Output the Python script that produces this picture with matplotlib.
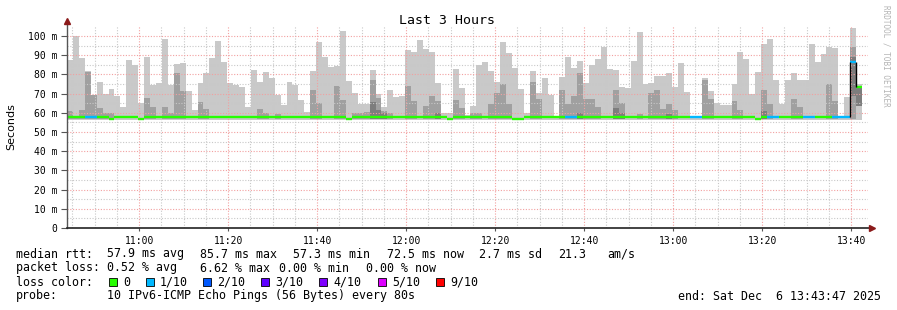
import numpy as np
import matplotlib.pyplot as plt
from datetime import datetime

# time range of the graph (80 s steps)
start = datetime(2025, 12, 6, 10, 43, 47)
end = datetime(2025, 12, 6, 13, 43, 47)
step = 80

# smoke: top of the lightest band (max ping) per step, ms
rtt_max = [87.5, 100, 88.5, 82, 69.4, 76, 69.7, 72.4, 68.75, 63.2,
           87.5, 85, 65.3, 89.2, 74.6, 75.5, 98.6, 74.6, 85.4, 86,
           71.5, 61.5, 75.3, 80.5, 88.5, 97.6, 86.5, 75.7, 74.6, 73.6,
           63.2, 82.3, 76, 81.25, 78.1, 69.4, 64.2, 76, 74.6, 66.7,
           60.4, 82, 96.9, 89.2, 84, 84.4, 102.8, 76.7, 70.1, 64.6,
           64.6, 82.3, 69.8, 63.2, 71.9, 68, 68.75, 92.7, 91.7, 97.9,
           93.4, 91.7, 75.3, 59.9, 59.9, 83, 72.9, 58.7, 63.5, 85,
           86.5, 82, 76, 96.9, 91.3, 83.3, 72.4, 60, 82, 70.5,
           78.1, 69.4, 58, 78.8, 89.2, 83.3, 87.2, 75.3, 85, 88.2,
           94.4, 83, 82.3, 73.3, 72.9, 87.2, 102, 75, 75.5, 79.2,
           79.2, 80.9, 73.3, 86, 70.8, 58, 58.5, 78.1, 71.2, 65.3,
           64.2, 64.2, 75, 91.7, 88.2, 69.8, 81.25, 95.8, 98.6, 77.1,
           64.6, 77.1, 80.5, 77.1, 77.1, 95.8, 86.5, 90.4, 94.4, 93.7,
           58, 68.4, 104.2, 75]

# second smoke band top (0 = none visible)
rtt_mid = [61, 58, 61.5, 81, 69.4, 62.5, 60, 60, 0, 0,
           0, 0, 0, 67.7, 63.2, 0, 63.2, 60, 80.9, 71.5,
           0, 0, 65.6, 62, 0, 0, 0, 0, 0, 0,
           0, 0, 62, 60, 0, 59.5, 0, 0, 0, 0,
           0, 71.9, 65.3, 0, 0, 74, 66.7, 0, 60, 60,
           60.4, 77.1, 67.7, 61, 60, 0, 0, 74, 66, 0,
           63.5, 68.75, 66, 0, 0, 66.7, 62.5, 0, 60, 60,
           0, 64.6, 70.1, 75, 64.6, 0, 0, 0, 76, 67.3,
           0, 0, 0, 71.9, 64.6, 68.75, 80.9, 67.3, 67.3, 63.2,
           0, 0, 71.9, 65.3, 0, 0, 59.5, 0, 70.1, 71.9,
           62, 64.6, 61.5, 0, 0, 0, 0, 77.1, 67.3, 0,
           0, 0, 66, 61.5, 0, 0, 0, 71.9, 64.6, 0,
           0, 0, 67, 62.8, 0, 0, 0, 0, 75, 66,
           0, 0, 94.4, 0]

# darkest smoke band (step index, low, high)
dark_idx = [51, 52, 53, 62, 86, 92, 93, 101, 117, 132, 133]
dark_lo = [57, 57, 57, 57, 57, 57, 57, 57, 57, 68.75, 63.5]
dark_hi = [65.6, 61.5, 60, 60, 60, 62.5, 60, 59.5, 61, 89.2, 73.3]

# median rtt per step, ms
median = [57.8, 57.8, 57.8, 57.6, 57.6, 57.8, 57.8, 57.0, 57.8, 57.8,
          57.8, 57.8, 57.0, 57.8, 57.8, 57.8, 57.8, 57.8, 57.8, 57.8,
          57.8, 57.8, 57.8, 57.8, 57.8, 57.8, 57.8, 57.8, 57.8, 57.8,
          57.8, 57.8, 57.8, 57.8, 57.8, 57.8, 57.8, 57.8, 57.8, 57.8,
          57.8, 57.8, 57.8, 57.8, 57.8, 57.8, 57.8, 57.0, 57.8, 57.8,
          57.8, 57.8, 57.8, 57.8, 57.8, 57.8, 57.8, 57.8, 57.8, 57.8,
          57.8, 57.8, 57.8, 57.8, 57.0, 57.8, 57.8, 57.8, 57.8, 57.8,
          57.8, 57.8, 57.8, 57.8, 57.8, 57.0, 57.0, 57.8, 57.8, 57.8,
          57.8, 57.8, 57.8, 57.8, 57.6, 57.6, 57.8, 57.8, 57.8, 57.8,
          57.8, 57.8, 57.8, 57.8, 57.8, 57.8, 57.8, 57.8, 57.8, 57.8,
          57.8, 57.8, 57.8, 57.8, 57.8, 57.6, 57.6, 57.8, 57.8, 57.8,
          57.8, 57.8, 57.8, 57.8, 57.8, 57.8, 57.0, 57.8, 57.6, 57.6,
          57.8, 57.8, 57.8, 57.8, 57.6, 57.6, 57.8, 57.8, 57.8, 57.6,
          57.6, 57.6, 86.5, 73.3]

# loss per step in tenths
loss = [0, 0, 0, 1, 1, 0, 0, 0, 0, 0,
        0, 0, 0, 0, 0, 0, 0, 0, 0, 0,
        0, 0, 0, 0, 0, 0, 0, 0, 0, 0,
        0, 0, 0, 0, 0, 0, 0, 0, 0, 0,
        0, 0, 0, 0, 0, 0, 0, 0, 0, 0,
        0, 0, 0, 0, 0, 0, 0, 0, 0, 0,
        0, 0, 0, 0, 0, 0, 0, 0, 0, 0,
        0, 0, 0, 0, 0, 0, 0, 0, 0, 0,
        0, 0, 0, 0, 1, 1, 0, 0, 0, 0,
        0, 0, 0, 0, 0, 0, 0, 0, 0, 0,
        0, 0, 0, 0, 0, 1, 1, 0, 0, 0,
        0, 0, 0, 0, 0, 0, 0, 0, 1, 1,
        0, 0, 0, 0, 1, 1, 0, 0, 0, 1,
        1, 1, 1, 0]

loss_labels = ["0", "1/10", "2/10", "3/10", "4/10", "5/10", "9/10"]
loss_colors = ["#26ff00", "#00b8ff", "#0059ff", "#5e00ff", "#7e00ff", "#dd00ff", "#ff0000"]

ytick_vals = [0, 10, 20, 30, 40, 50, 60, 70, 80, 90, 100]
ytick_labels = ["0", "10 m", "20 m", "30 m", "40 m", "50 m", "60 m", "70 m", "80 m", "90 m", "100 m"]
xtick_labels = ["11:00", "11:20", "11:40", "12:00", "12:20", "12:40", "13:00", "13:20", "13:40"]

mono = "DejaVu Sans Mono"
W, H = 897, 310
fig = plt.figure(figsize=(W / 100, H / 100), dpi=100)
fig.patch.set_facecolor("white")
ymax = 105
ax = fig.add_axes([67 / W, 1 - 228 / H, 801 / W, ymax * 1.92 / H])
span = (end - start).total_seconds()
ax.set_xlim(0, span)
ax.set_ylim(0, ymax)

x = np.arange(len(rtt_max)) * step
smoke_lo = 56.4
ax.bar(x, np.array(rtt_max) - smoke_lo, bottom=smoke_lo, width=step, align="edge",
       color="#c9c9c9", lw=0, zorder=1)
mid = np.array(rtt_mid)
has = mid > 0
ax.bar(x[has], mid[has] - 57.0, bottom=57.0, width=step, align="edge",
       color="#a0a0a0", lw=0, zorder=2)
ax.bar(x[dark_idx], np.array(dark_hi) - np.array(dark_lo), bottom=dark_lo, width=step,
       align="edge", color="#7d7d7d", lw=0, zorder=2.5)

# grid drawn over the smoke
def tsec(h, m):
    return (datetime(2025, 12, 6, h, m) - start).total_seconds()

minor_x = [tsec(10, 45) + 300 * k for k in range(36)]
major_x = [tsec(11, 0) + 1200 * k for k in range(9)]
for v in minor_x:
    if v not in major_x:
        ax.axvline(v, color="#c8c8c8", lw=0.8, ls=(0, (1, 1.5)), zorder=3)
for v in range(5, 105, 10):
    ax.axhline(v, color="#c8c8c8", lw=0.8, ls=(0, (1, 1.5)), zorder=3)
for v in major_x:
    ax.axvline(v, color="#f2a0a0", lw=0.8, ls=(0, (1, 1.5)), zorder=3)
for v in ytick_vals[1:]:
    ax.axhline(v, color="#f2a0a0", lw=0.8, ls=(0, (1, 1.5)), zorder=3)

# median line coloured by loss
for i in range(len(median)):
    ax.hlines(median[i], x[i], x[i] + step, color=loss_colors[loss[i]], lw=1.7, zorder=5)
    if i > 0 and abs(median[i] - median[i - 1]) > 5:
        ax.vlines(x[i], min(median[i], median[i - 1]) + 0.3, max(median[i], median[i - 1]),
                  color="black", lw=1.0, zorder=5)

for s in ax.spines.values():
    s.set_visible(False)
ax.plot([0, 0], [0, 107.5], color="#555555", lw=1, clip_on=False, zorder=6)
ax.plot([0, span + 45], [0, 0], color="#222222", lw=1.2, clip_on=False, zorder=6)
ax.plot([0], [107.8], marker="^", color="#8b1a1a", ms=4.5, clip_on=False, zorder=7)
ax.plot([span + 50], [0], marker=">", color="#8b1a1a", ms=4.5, clip_on=False, zorder=7)

ax.set_yticks(ytick_vals)
ax.set_yticklabels(ytick_labels, fontfamily=mono, fontsize=7)
ax.set_xticks(major_x)
ax.set_xticklabels(xtick_labels, fontfamily=mono, fontsize=7)
ax.tick_params(axis="y", length=4, width=0.8, color="#555555", pad=3)
ax.tick_params(axis="x", length=2, width=0.8, color="#555555", pad=4)

fig.text(447 / W, 1 - 20 / H, "Last 3 Hours", ha="center", va="center", fontfamily=mono, fontsize=9.5)
fig.text(11 / W, 1 - 127 / H, "Seconds", rotation=90, ha="center", va="center", fontsize=8)
fig.text(886 / W, 1 - 5 / H, "RRDTOOL / TOBI OETIKER", rotation=270, ha="center", va="top",
         fontfamily=mono, fontsize=5.5, color="#b4b4b4")

fs = 8.4
def row(y, items):
    for px, s in items:
        fig.text(px / W, 1 - y / H, s, ha="left", va="center", fontfamily=mono, fontsize=fs)

row(254, [(16, "median rtt:"), (107, "57.9 ms avg"), (200, "85.7 ms max"), (293, "57.3 ms min"),
          (387, "72.5 ms now"), (479, "2.7 ms sd"), (558, "21.3"), (607, "am/s")])
row(268, [(16, "packet loss:"), (107, "0.52 % avg"), (200, "6.62 % max"), (279, "0.00 % min"),
          (366, "0.00 % now")])
row(282, [(16, "loss color:")])
box_x = [109, 146, 203, 261, 319, 378, 436]
for bx, lab, col in zip(box_x, loss_labels, loss_colors):
    fig.patches.append(plt.Rectangle((bx / W, 1 - 286 / H), 8 / W, 8 / H, transform=fig.transFigure,
                                     facecolor=col, edgecolor="black", lw=0.6))
    row(282, [(bx + 14, lab)])
row(296, [(16, "probe:"), (107, "10 IPv6-ICMP Echo Pings (56 Bytes) every 80s"),
          (678, "end: Sat Dec  6 13:43:47 2025")])

fig.savefig("out.png", dpi=100, facecolor="white")
